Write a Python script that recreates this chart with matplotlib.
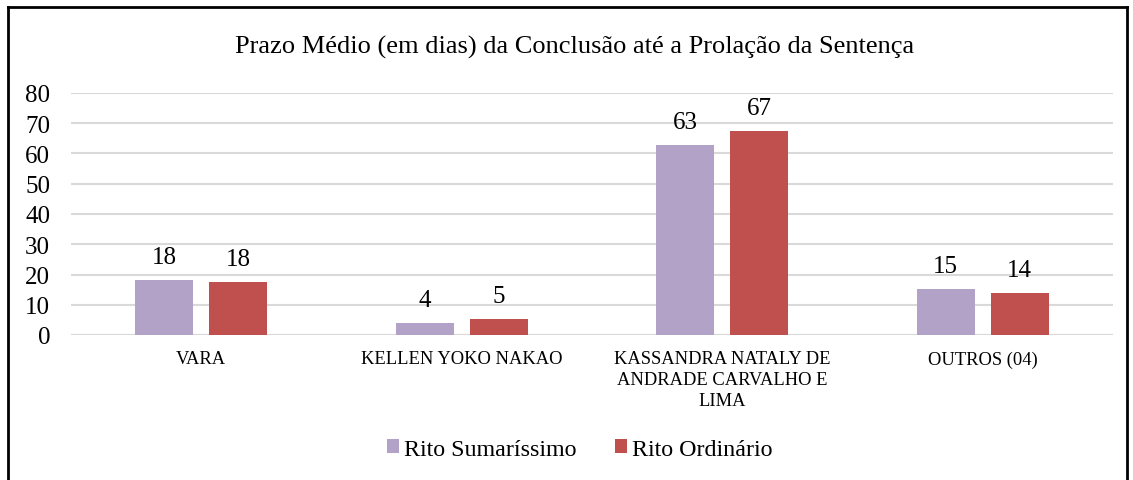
import matplotlib.pyplot as plt
import numpy as np
from matplotlib.lines import Line2D

plt.rcParams['font.family'] = ['Liberation Serif', 'DejaVu Serif']

categorias = ['VARA', 'KELLEN YOKO NAKAO',
              'KASSANDRA NATALY DE\nANDRADE CARVALHO E\nLIMA', 'OUTROS (04)']
sumarissimo = [18.2, 4.0, 62.7, 15.2]
ordinario = [17.6, 5.3, 67.4, 13.9]
yticks = [0, 10, 20, 30, 40, 50, 60, 70, 80]

cor_sum = '#B3A2C7'
cor_ord = '#C0504D'

fig = plt.figure(figsize=(11.33, 4.81), dpi=100)
ax = fig.add_axes([71 / 1133, (481 - 336) / 481, (1113 - 71) / 1133, (336 - 94) / 481])

x = np.arange(len(categorias))
w = 0.223
off = 0.142
b1 = ax.bar(x - off, sumarissimo, w, color=cor_sum, label='Rito Sumaríssimo', zorder=3)
b2 = ax.bar(x + off, ordinario, w, color=cor_ord, label='Rito Ordinário', zorder=3)

for bars, vals in [(b1, sumarissimo), (b2, ordinario)]:
    for b, v in zip(bars, vals):
        ax.text(b.get_x() + b.get_width() / 2, v + 4.0, f'{v:.0f}',
                ha='center', va='bottom', fontsize=18)

ax.set_xlim(-0.5, len(categorias) - 0.5)
ax.set_ylim(0, 80)
ax.set_yticks(yticks)
ax.yaxis.grid(True, color='#D9D9D9', linewidth=1.5, zorder=0)
ax.tick_params(axis='y', length=0, labelsize=18, pad=15)
ax.tick_params(axis='x', length=0, labelsize=13.3, pad=11)
ax.set_xticks(x)
ax.set_xticklabels(categorias, va='top', linespacing=1.28)
for s in ax.spines.values():
    s.set_visible(False)
ax.axhline(0, color='#D9D9D9', linewidth=1.5, zorder=1)

fig.text(575 / 1133, 1 - 47 / 481, 'Prazo Médio (em dias) da Conclusão até a Prolação da Sentença',
         ha='center', va='center', fontsize=19)

fig.legend(handles=[b1, b2], loc='center', bbox_to_anchor=(580 / 1133, 1 - 450 / 481),
           ncol=2, frameon=False, fontsize=17.3, handlelength=0.5, handleheight=0.5,
           handletextpad=0.2, columnspacing=1.6)

# moldura
fig.add_artist(Line2D([8 / 1133, 8 / 1133], [-0.1, 1 - 8 / 481], color='black', lw=2))
fig.add_artist(Line2D([8 / 1133, 1127 / 1133], [1 - 8 / 481, 1 - 8 / 481], color='black', lw=2))
fig.add_artist(Line2D([1127 / 1133, 1127 / 1133], [-0.1, 1 - 8 / 481], color='black', lw=2))

fig.savefig('out.png', dpi=100)
